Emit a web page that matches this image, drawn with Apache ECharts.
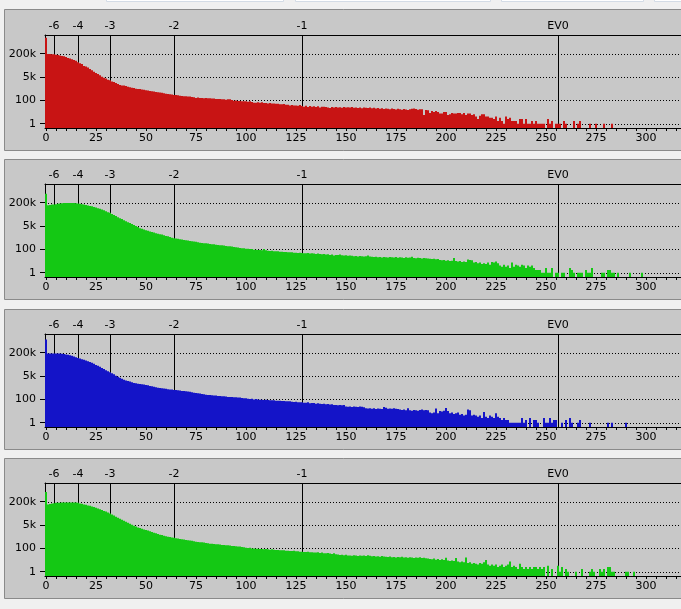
<!DOCTYPE html>
<html>
<head>
<meta charset="utf-8">
<style>
html,body{margin:0;padding:0;background:#f0f0f0;}
#chart{width:681px;height:609px;}
</style>
<script src="https://cdn.jsdelivr.net/npm/echarts@6.0.0/dist/echarts.min.js"></script>
</head>
<body>
<div id="chart"></div>
<script>
// Histogram counts per bin (bin index = array index)
const redCounts = [
2300000,195000,195000,185000,185000,170000,162000,155000,140000,135000,
120000,105000,95000,85000,77000,67000,53000,46000,40000,30000,
27000,23000,18500,15000,12000,9800,8400,6700,5300,4600,
4000,3300,2950,2500,2250,1950,1650,1400,1250,1250,
1150,1030,930,880,840,750,710,710,650,620,
570,540,510,480,460,430,410,390,370,340,
320,305,290,275,260,260,245,230,220,205,
205,195,195,185,175,155,165,155,155,145,
155,145,145,138,138,130,130,130,122,122,
115,122,122,108,96,100,90,90,85,85,
85,80,85,76,68,68,72,68,72,63,
63,58,63,58,58,56,56,50,50,53,
47,47,41,44,41,41,39,44,37,33,
39,31,37,33,35,31,35,29,33,33,
31,29,26,31,29,31,
28,30,27,31,29,30,28,31,27,29,
26,28,25,29,27,26,28,25,27,24,
26,23,25,22,24,23,21,24,22,20,
23,21,19,22,20,18,21,23,24,22,
19,
21,21,7,18,17,10,15,12,15,12,9,9,12,12,
7,8,10,9,9,10,10,8,10,7,
9,9,7,8,5,3,6,8,8,5,
5,4,4,3,5,2,4,2,1,5,
3,4,2,2,2,1,3,3,1,3,
1,1,2,1,2,1,1,1,1,0,
3,1,2,0,1,1,1,0,2,1,
0,0,0,2,0,1,2,0,0,0,
0,1,0,0,1,0,0,0,1,0,
0,0,1
];
const green1Counts = [
800000,135000,140000,150000,150000,160000,170000,180000,185000,190000,
190000,190000,190000,190000,190000,185000,180000,170000,160000,150000,
140000,130000,122000,115000,105000,95000,86000,78000,70000,62000,
54000,46000,42000,35000,29000,25000,21000,18000,15500,13000,
11000,9500,8300,7000,6000,5000,4300,3600,3300,2900,
2600,2400,2100,1900,1750,1550,1450,1320,1250,1100,
1000,930,840,750,680,650,620,570,540,510,
480,460,430,410,390,370,340,320,305,290,
290,275,260,245,245,230,220,205,205,195,
185,175,175,168,155,145,138,130,122,122,
115,115,108,108,96,96,92,92,86,108,
86,80,76,80,72,72,72,68,68,64,
64,60,60,60,56,56,54,56,54,51,
51,54,48,51,48,45,48,45,42,45,
40,42,38,40,34,38,
38,41,36,34,35,33,34,32,30,31,
29,31,30,28,30,34,29,27,26,27,
25,26,24,26,25,24,26,25,24,26,
23,25,24,22,25,23,24,27,22,21,
23,22,20,22,21,20,19,18,19,17,
18,15,14,15,13,14,12,13,22,12,
11,12,10,11,10,16,15,14,9,10,
8,9,7,8,7,9,6,10,9,11,
8,5,4,6,4,5,3,9,4,6,
5,4,6,5,3,5,4,5,3,2,
2,2,1,1,3,1,1,3,0,1,
1,0,1,1,0,0,3,2,1,0,
1,1,1,0,2,1,1,3,0,0,
0,0,1,1,0,2,2,1,1,0,
1,0,0,0,0,0,1,0,0,0,
0,0,1
];
const blueCounts = [
1500000,180000,180000,180000,180000,180000,180000,180000,170000,165000,
155000,148000,135000,125000,112000,100000,90000,82000,74000,67000,
60000,54000,47000,42000,36000,30000,26000,22000,18500,15500,
13000,11000,9300,8000,6700,5300,4600,3900,3300,2800,
2500,2250,2050,1850,1650,1550,1450,1380,1300,1250,
1150,1100,1000,930,880,790,750,710,680,650,
620,570,540,540,510,510,480,460,430,430,
410,390,370,340,320,305,290,275,260,245,
230,220,220,205,195,195,185,185,175,175,
168,155,155,155,145,145,138,138,130,122,
122,115,108,115,100,108,100,96,96,90,
96,90,85,85,85,80,80,80,76,76,
72,72,72,68,64,68,60,60,60,56,
56,60,50,53,53,47,50,47,45,47,
42,45,40,42,38,38,
36,38,35,37,29,27,28,26,28,27,
26,28,27,25,21,20,21,19,21,18,
20,19,18,26,23,19,20,19,21,19,
18,16,15,16,14,21,14,13,15,14,
13,15,16,14,15,14,
9,8,9,20,8,12,11,13,22,12,
8,9,7,8,9,6,7,5,6,16,
14,5,6,5,4,5,3,10,4,3,
5,4,3,8,4,3,2,3,2,2,
1,1,1,1,1,1,3,1,2,0,
3,0,2,2,1,0,0,3,1,1,
3,1,2,2,0,0,1,0,2,0,
3,1,0,0,1,2,0,0,0,0,
1,0,0,0,0,0,0,0,0,1,
0,1,0,0,0,0,0,0,1
];
const green2Counts = [
900000,130000,140000,150000,160000,170000,170000,170000,180000,180000,
180000,180000,180000,180000,180000,180000,170000,150000,145000,130000,
125000,112000,106000,95000,87000,78000,70000,63000,55000,47000,
43000,38000,32000,27000,23000,19500,16500,14000,12000,10000,
8700,7400,6300,5300,4600,4000,3400,3100,2800,2500,
2250,2050,1850,1650,1450,1300,1150,1030,1000,880,
790,750,710,650,620,570,540,510,480,460,
430,410,390,370,340,320,305,290,290,275,
260,245,230,230,220,205,205,195,185,185,
175,175,168,155,155,145,138,138,130,122,
115,108,115,100,100,96,96,90,90,85,
90,85,80,85,80,76,76,72,72,72,
68,68,64,64,68,60,60,56,56,54,
54,56,51,51,48,48,51,45,48,42,
42,45,40,38,42,36,
34,31,33,30,32,28,29,27,30,28,
26,29,27,28,26,30,27,25,26,24,
25,23,26,24,23,22,24,21,22,20,
22,21,23,20,21,19,21,20,18,20,
19,21,18,19,17,16,15,14,16,13,
15,12,14,12,19,11,10,11,10,18,
9,8,9,8,20,7,8,6,7,6,
5,7,6,8,12,5,4,5,4,5,
3,4,5,3,4,5,9,3,4,3,
2,6,3,2,3,2,3,2,3,3,
2,3,2,3,0,4,0,2,0,0,
4,1,3,0,2,1,0,0,0,1,
0,0,2,0,0,0,1,2,1,0,
0,2,1,2,0,3,3,1,1,0,
0,0,0,0,1,1,0,0,1
];

// Axis ticks / labels
const xTickValues = [0,5,10,15,20,25,30,35,40,45,50,55,60,65,70,75,80,85,90,95,100,105,110,115,120,125,130,135,140,145,150,155,160,165,170,175,180,185,190,195,200,205,210,215,220,225,230,235,240,245,250,255,260,265,270,275,280,285,290,295,300,305,310,315];
const xLabelValues = [0,25,50,75,100,125,150,175,200,225,250,275,300];
const evPositions = [4,16,32,64,128,256];
const evLabels = ['-6','-4','-3','-2','-1','EV0'];
const yTickCounts = [1,100,5000,200000];
const yTickLabels = ['1','100','5k','200k'];

const panelData = [redCounts, green1Counts, blueCounts, green2Counts];
const panelColors = ['#c81414', '#14c814', '#1414c8', '#14c814'];

// Display scale of the histogram's vertical axis (compressed log of counts)
const OFFSET = 0.185, EXP = 1.13;
function level(c) { return c > 0 ? OFFSET + Math.pow(Math.log10(c) / 2, EXP) : 0; }
const yTickLevels = yTickCounts.map(level);
function yLabel(v) {
  for (let i = 0; i < yTickLevels.length; i++) if (Math.abs(yTickLevels[i] - v) < 1e-6) return yTickLabels[i];
  return '';
}

const FONT = 'DejaVu Sans';
const boxTops = [9, 159, 309, 458];
const boxBottoms = [150, 299, 449, 598];
const gridTops = [35, 184, 334, 483];
const GRID_H = 93, X_MIN = -0.5, X_MAX = 317.5, Y_MAX = 4;

const grids = [], xAxes = [], yAxes = [], series = [], graphics = [];

// top strip pieces
[[106,283],[295,490],[501,643],[654,700]].forEach(([a,b]) => {
  graphics.push({type:'rect', z:-1, shape:{x:a+0.5, y:-2, width:b-a, height:3.5}, style:{fill:'#ffffff', stroke:'#d4dce6', lineWidth:1}});
});

for (let k = 0; k < 4; k++) {
  graphics.push({
    type: 'rect', z: -1,
    shape: {x: 4.5, y: boxTops[k] + 0.5, width: 720, height: boxBottoms[k] - boxTops[k]},
    style: {fill: '#c8c8c8', stroke: '#8a8a8a', lineWidth: 1}
  });
  grids.push({left: 45, right: 0, top: gridTops[k], height: GRID_H, containLabel: false});
  xAxes.push({
    type: 'value', gridIndex: k, position: 'bottom', min: X_MIN, max: X_MAX, z: 1,
    axisLine: {show: true, onZero: false, lineStyle: {color: '#000', width: 1}},
    axisTick: {show: true, customValues: xTickValues, length: 3, lineStyle: {color: '#000'}},
    axisLabel: {customValues: xLabelValues, color: '#000', fontFamily: FONT, fontSize: 11, margin: 5},
    splitLine: {show: false}
  });
  xAxes.push({
    type: 'value', gridIndex: k, position: 'top', min: X_MIN, max: X_MAX, z: 1,
    axisLine: {show: true, onZero: false, lineStyle: {color: '#000', width: 1}},
    axisTick: {show: false},
    axisLabel: {customValues: evPositions, color: '#000', fontFamily: FONT, fontSize: 11, margin: 3,
      formatter: v => evLabels[evPositions.indexOf(v)]},
    splitLine: {show: false}
  });
  yAxes.push({
    type: 'value', gridIndex: k, min: 0, max: Y_MAX, z: 1,
    axisLine: {show: true, onZero: false, lineStyle: {color: '#000', width: 1}},
    axisTick: {show: true, customValues: yTickLevels, length: 5, lineStyle: {color: '#000'}},
    axisLabel: {customValues: yTickLevels, color: '#000', fontFamily: FONT, fontSize: 11, margin: 9, formatter: yLabel},
    splitLine: {show: false}
  });

  // dotted gridlines at the labelled counts
  series.push({
    type: 'custom', xAxisIndex: 2 * k, yAxisIndex: k, z: 1, silent: true,
    data: yTickCounts.map(c => [0, c]),
    renderItem: (params, api) => {
      const cs = params.coordSys;
      const y = Math.round(api.coord([0, level(api.value(1))])[1]) + 0.5;
      return {type: 'line', shape: {x1: cs.x, y1: y, x2: cs.x + cs.width, y2: y},
        style: {stroke: '#000', lineWidth: 1, lineDash: [1, 2]}};
    }
  });
  // EV marker lines
  series.push({
    type: 'custom', xAxisIndex: 2 * k, yAxisIndex: k, z: 2, silent: true,
    data: evPositions.map(x => [x, 0]),
    renderItem: (params, api) => {
      const cs = params.coordSys;
      const x = Math.round(api.coord([api.value(0), 0])[0]) + 0.5;
      return {type: 'line', shape: {x1: x, y1: cs.y, x2: x, y2: cs.y + cs.height},
        style: {stroke: '#000', lineWidth: 1}};
    }
  });
  // histogram bars
  const color = panelColors[k];
  series.push({
    type: 'custom', xAxisIndex: 2 * k, yAxisIndex: k, z: 3, silent: true,
    data: panelData[k].map((c, i) => [i, c]),
    renderItem: (params, api) => {
      const i = api.value(0), c = api.value(1);
      if (!(c > 0)) return null;
      const p0 = api.coord([i - 0.5, 0]);
      const p1 = api.coord([i + 0.5, level(c)]);
      return {type: 'rect', shape: {x: p0[0], y: p1[1], width: p1[0] - p0[0], height: p0[1] - p1[1]},
        style: {fill: color}};
    }
  });
}

const chart = echarts.init(document.getElementById('chart'), null, {renderer: 'canvas'});
chart.setOption({
  backgroundColor: '#f0f0f0',
  animation: false,
  textStyle: {fontFamily: FONT},
  graphic: {elements: graphics},
  grid: grids,
  xAxis: xAxes,
  yAxis: yAxes,
  series: series
});
</script>
</body>
</html>
